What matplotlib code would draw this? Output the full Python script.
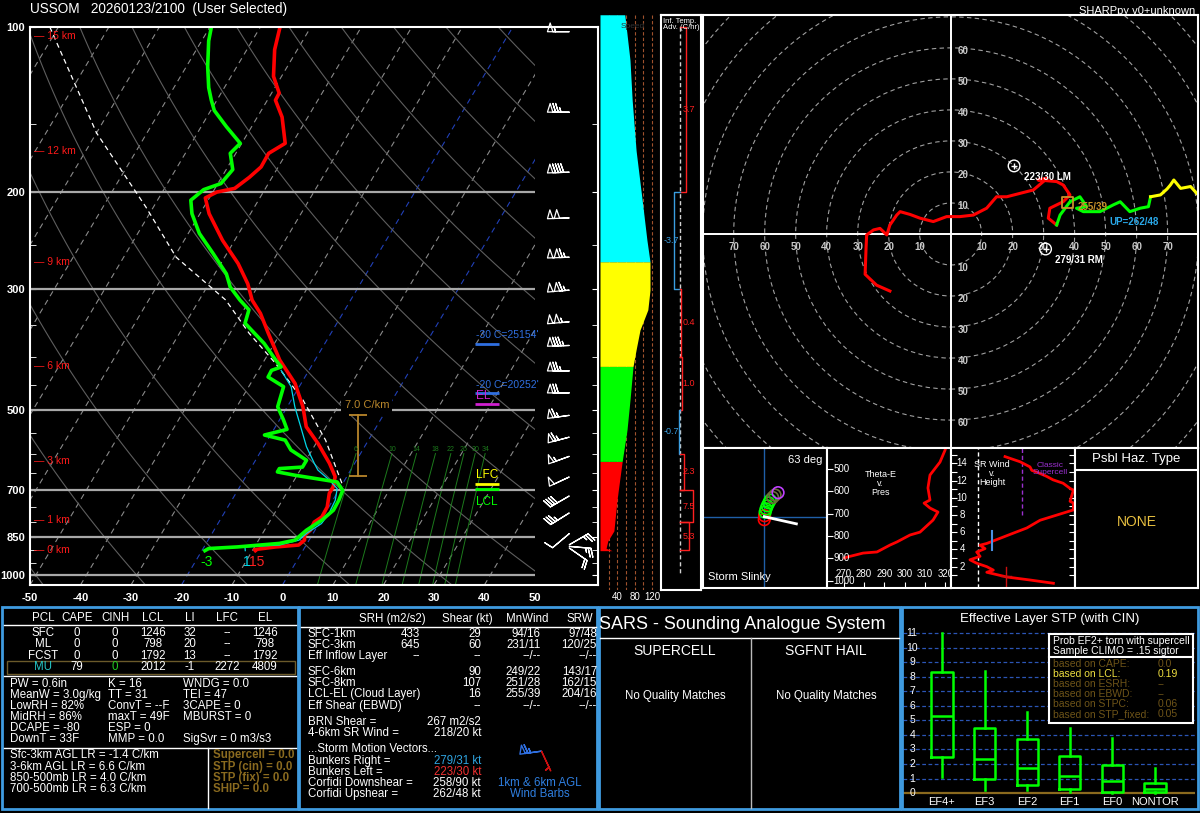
import numpy as np
import matplotlib
matplotlib.use("Agg")
import matplotlib.pyplot as plt
from matplotlib.patches import Rectangle, Circle
from matplotlib.ticker import NullFormatter
import matplotlib.transforms as mtransforms

plt.rcParams['font.family'] = ['Liberation Sans', 'DejaVu Sans']
plt.rcParams['axes.unicode_minus'] = False

W, H = 1200, 813
P_BOT, P_TOP = 1042.0, 100.0
SKEW = 28.0

# ---------------- sounding (pressure hPa, deg C) ----------------
t_p = [100, 110, 123, 132, 136, 146, 163, 170, 180, 188, 197, 200, 205, 219, 245, 270, 294, 315,
       333, 362, 405, 447, 493, 536, 575, 625, 661, 690, 709, 751, 783, 800, 828, 845, 863, 881,
       888, 898, 902]
t_c = [-66.1, -64.5, -61.6, -58.5, -58.4, -55.1, -51.4, -53.5, -53.4, -54.5, -56.1, -59.2, -60.8,
       -58.2, -52.4, -46.6, -42.3, -39.5, -36.3, -32.4, -27.0, -21.2, -16.9, -13.9, -9.6, -5.0,
       -2.3, -1.5, -1.5, -0.3, -0.2, -1.1, -0.9, -1.5, -0.9, -1.5, -5.8, -9.7, -9.4]

td_p = [100, 106, 118, 129, 136, 142, 152, 163, 170, 182, 193, 198, 207, 219, 238, 259, 282, 298,
        315, 328, 347, 378, 405, 417, 423, 435, 453, 493, 521, 542, 555, 567, 591, 617, 635, 639,
        648, 657, 676, 700, 730, 761, 793, 828, 863, 875, 888, 894, 902]
td_c = [-79.7, -78.6, -75.8, -73.1, -71.1, -69.3, -65.0, -60.3, -61.1, -58.7, -59.4, -62.1, -63.4,
        -61.6, -57.8, -52.7, -47.7, -45.4, -41.9, -39.0, -38.2, -32.0, -27.8, -25.9, -27.4, -27.3,
        -23.1, -21.9, -19.2, -17.4, -21.2, -16.5, -14.2, -9.9, -9.9, -14.3, -14.3, -10.5, -1.3,
        0.8, 1.2, 1.3, 0.2, -1.7, -2.8, -5.5, -13.4, -18.9, -19.4]

wb_p = [423, 453, 493, 536, 583, 625, 643, 671, 695, 730, 772, 805, 839, 863, 881, 888, 902]
wb_c = [-25.5, -21.6, -18.5, -15.0, -11.5, -8.0, -6.5, -3.0, -0.5, 0.5, 0.8, 0.5, -1.3, -2.0,
        -5.3, -11.9, -11.4]

pcl_p = [100, 156, 213, 263, 315, 362, 411, 479, 567, 690]
pcl_c = [-111.7, -90.0, -71.5, -59.6, -44.7, -36.2, -27.4, -17.7, -8.5, 0.5]

sfc_lbl = ['-3', '1', '15']          # deg F, dewpoint / wetbulb / temperature

hgt_km = [0, 1, 3, 6, 9, 12, 15]
hgt_p = [901, 794, 619, 416, 268, 168, 104]

mix_w = [6, 10, 14, 18, 22, 26, 30, 34]

barb_p = [102, 143, 184, 223, 263, 302, 345, 381, 424, 465, 511, 560, 607, 662, 717, 770, 840,
          880, 886, 892]
barb_spd = [57, 75, 92, 102, 113, 115, 105, 84, 76, 71, 67, 63, 55, 50, 42, 36, 10, 25, 25, 20]
barb_dir = [270, 270, 268, 268, 268, 265, 265, 268, 270, 270, 262, 255, 250, 245, 240, 238, 230,
            60, 95, 125]

lvl_name = ["-30 C=25154'", "-20 C=20252'", 'EL', 'LFC', 'LCL']
lvl_p = [378, 465, 487, 681, 697]

lr_label = '7.0 C/km'
lr_bot, lr_top = 658, 510

# wind speed profile (kt) coloured by 0-3, 3-6, 6-9, 9+ km
spd_p = [95, 115, 136, 168, 207, 245, 268, 302, 328, 357, 388, 416, 479, 544, 620, 730, 830,
         866, 893, 902]
spd_kt = [57, 69, 74, 83, 97, 108, 115, 115, 110, 92, 83, 76, 69, 62, 51, 39, 32, 18, 14, 28]
band_p = [902, 620, 416, 268, 95]

# inferred temperature advection (C/hr)
adv_top = [100, 200, 300, 400, 500, 600, 700, 800]
adv_bot = [200, 300, 400, 500, 600, 700, 800, 900]
adv_val = [3.7, -3.7, 0.4, 1.0, -0.7, 2.3, 7.5, 5.3]

# hodograph (kt)
h03_u = [-19.6, -23.9, -27.6, -27.3, -27.1, -24.9, -22.8, -20.6, -19.6, -17.4, -16.3, -13.1,
         -9.9, -5.6, -1.3, 3.0, 7.3, 11.6, 14.8, 18.1, 22.4, 26.7, 29.9, 31.0, 28.2, 34.2, 36.3,
         38.5, 36.3, 32.0, 31.5, 34.2]
h03_v = [-18.4, -16.5, -13.0, -4.6, -0.3, 1.3, 1.8, -0.3, 2.9, 6.1, 7.2, 6.3, 5.1, 4.0, 5.6,
         5.6, 6.1, 8.3, 12.0, 12.0, 13.1, 14.2, 16.9, 18.0, 17.4, 16.9, 15.8, 12.6, 10.4, 8.3,
         5.1, 2.9]
h36_u = [34.2, 35.3, 38.5, 41.7, 43.9, 40.6, 42.8, 48.2, 52.5, 54.7, 57.8, 61.1, 63.8, 64.5]
h36_v = [2.9, 6.1, 10.4, 12.0, 8.8, 8.3, 7.2, 7.2, 9.4, 10.4, 7.2, 8.3, 8.8, 12.0]
h69_u = [64.5, 67.7, 69.8, 70.9, 72.0, 74.2, 77.4, 79.4]
h69_v = [12.0, 12.6, 14.5, 15.8, 17.4, 14.7, 15.3, 13.1]

rm_dir, rm_spd = 279, 31
lm_dir, lm_spd = 223, 30
mw_dir, mw_spd = 255, 39
up_dir, up_spd = 262, 48

# storm slinky
slk_x = [0.0, 0.1, 0.3, 0.6, 1.0, 1.5, 2.0, 2.8, 3.6, 4.6]
slk_y = [-1.0, 0.3, 1.5, 2.6, 3.6, 4.6, 5.5, 6.4, 7.2, 8.0]
slk_col = ['red', 'red', '#00ff00', '#00ff00', '#00ff00', '#00ff00', '#00ff00', '#6b6b3a',
           '#6b6b3a', '#c040ff']
slk_vec = (10.7, -2.4)
slk_deg = 63

# theta-e v pres
te_p = [415, 469, 527, 585, 639, 653, 675, 693, 729, 783, 796, 827, 841, 872, 877, 895, 899]
te_k = [319.8, 317.3, 312.4, 311.4, 312.4, 309.5, 312.4, 316.3, 313.9, 307.5, 302.6, 296.2,
        292.8, 286.4, 279.6, 271.7, 270.5]

# storm relative wind v height
srw_h = [14.8, 14.6, 14.2, 13.6, 13.2, 13.0, 12.5, 12.1, 11.7, 11.1, 10.9, 9.6, 9.4, 8.6, 8.0,
         7.4, 6.5, 5.9, 5.3, 4.7, 4.5, 4.1, 3.7, 3.2, 2.8, 2.4, 2.0, 1.6, 1.35, 0.8, 0.45, 0.07]
srw_kt = [30.5, 33.3, 39.0, 44.6, 45.6, 48.4, 54.0, 57.6, 63.3, 67.2, 69.1, 67.2, 69.1, 69.1,
          59.7, 50.3, 42.8, 35.2, 27.7, 20.2, 16.4, 19.2, 14.5, 16.4, 10.7, 14.5, 20.2, 23.9,
          20.2, 31.5, 44.6, 57.8]

# STP box stats
stp_cat = ['EF4+', 'EF3', 'EF2', 'EF1', 'EF0', 'NONTOR']
stp_lo = [1.1, 0.2, 0.2, 0.1, 0.0, 0.0]
stp_q1 = [2.5, 1.0, 0.55, 0.3, 0.05, 0.05]
stp_med = [5.3, 2.35, 1.7, 1.2, 0.8, 0.25]
stp_q3 = [8.3, 4.45, 3.7, 2.55, 1.95, 0.7]
stp_hi = [11.0, 8.4, 5.6, 4.5, 3.75, 1.75]
stp_val = 0.0

# tables
pcl_hdr = ['PCL', 'CAPE', 'CINH', 'LCL', 'LI', 'LFC', 'EL']
pcl_rows = [['SFC', '0', '0', '1246', '32', '--', '1246'],
            ['ML', '0', '0', '798', '20', '--', '798'],
            ['FCST', '0', '0', '1792', '13', '--', '1792'],
            ['MU', '79', '0', '2012', '-1', '2272', '4809']]
idx_cols = [['PW = 0.6in', 'MeanW = 3.0g/kg', 'LowRH = 82%', 'MidRH = 86%', 'DCAPE = -80',
             'DownT = 33F'],
            ['K = 16', 'TT = 31', 'ConvT = --F', 'maxT = 49F', 'ESP = 0', 'MMP = 0.0'],
            ['WNDG = 0.0', 'TEI = 47', '3CAPE = 0', 'MBURST = 0', '', 'SigSvr = 0 m3/s3']]
lapse = ['Sfc-3km AGL LR = -1.4 C/km', '3-6km AGL LR = 6.6 C/km', '850-500mb LR = 4.0 C/km',
         '700-500mb LR = 6.3 C/km']
svr_idx = ['Supercell = 0.0', 'STP (cin) = 0.0', 'STP (fix) = 0.0', 'SHIP = 0.0']

kin_hdr = ['SRH (m2/s2)', 'Shear (kt)', 'MnWind', 'SRW']
kin_rows = [['SFC-1km', '433', '29', '94/16', '97/48'],
            ['SFC-3km', '645', '60', '231/11', '120/25'],
            ['Eff Inflow Layer', '--', '--', '--/--', '--/--'],
            ['SFC-6km', '', '90', '249/22', '143/17'],
            ['SFC-8km', '', '107', '251/28', '162/15'],
            ['LCL-EL (Cloud Layer)', '', '16', '255/39', '204/16'],
            ['Eff Shear (EBWD)', '', '--', '--/--', '--/--']]
kin_misc = [['BRN Shear =', '267 m2/s2'], ['4-6km SR Wind =', '218/20 kt']]
storm_vec = [['Bunkers Right =', '279/31 kt'], ['Bunkers Left =', '223/30 kt'],
             ['Corfidi Downshear =', '258/90 kt'], ['Corfidi Upshear =', '262/48 kt']]
icon_dir = [262, 155]
icon_spd = [65, 5]

prob_rows = [['based on CAPE:', '0.0'], ['based on LCL:', '0.19'], ['based on ESRH:', '--'],
             ['based on EBWD:', '--'], ['based on STPC:', '0.06'],
             ['based on STP_fixed:', '0.05']]


def skx(t, p):
    return np.asarray(t, float) + SKEW * np.log(P_BOT / np.asarray(p, float))


def uv(d, s):
    d = np.radians(np.asarray(d, float))
    s = np.asarray(s, float)
    return -s * np.sin(d), -s * np.cos(d)


fig = plt.figure(figsize=(W / 100, H / 100), dpi=100, facecolor='black')


def pax(x0, y0, x1, y1):
    a = fig.add_axes([x0 / W, 1 - y1 / H, (x1 - x0) / W, (y1 - y0) / H])
    a.set_facecolor('black')
    return a


def frame(a, col='white', lw=1.5):
    for s in a.spines.values():
        s.set_color(col)
        s.set_linewidth(lw)


# ================= skew-T =================
ax = pax(30, 27, 598, 585)
ax.set_yscale('log')
ax.set_ylim(P_BOT, P_TOP)
ax.set_xlim(-50, 62.5)
clip = Rectangle((-50, P_TOP), 100, P_BOT - P_TOP, transform=ax.transData)

pp = np.array([P_BOT, P_TOP])
for t0 in range(-170, 60, 10):
    col = '#2140b8' if t0 in (-20, 0) else '#8a8a8a'
    ln, = ax.plot(skx(t0, pp), pp, color=col, lw=0.8, ls=(0, (5, 4)))
    ln.set_clip_path(clip)

pa = np.geomspace(P_BOT, P_TOP, 60)
for th in range(-50, 250, 20):
    t = (th + 273.15) * (pa / 1000.0) ** 0.2857 - 273.15
    ln, = ax.plot(skx(t, pa), pa, color='#5e5e5e', lw=0.8)
    ln.set_clip_path(clip)

pm = np.geomspace(P_BOT, 600, 20)
for w in mix_w:
    e = w * pm / (622.0 + w)
    le = np.log(e / 6.112)
    td = 243.5 * le / (17.67 - le)
    ax.plot(skx(td, pm), pm, color='#1c7a1c', lw=0.7)
    ax.text(skx(td[-1], 600), 598, str(w), color='#1c7a1c', fontsize=5, ha='center',
            va='bottom')

ax.hlines([200, 300, 500, 700, 850, 1000], -50, 50, colors='#a8a8a8', lw=1.6)

ax.plot(skx(pcl_c, pcl_p), pcl_p, color='white', lw=0.9, ls=(0, (4, 3)))
ax.plot(skx(t_c, t_p), t_p, color='#ff0000', lw=2.6)
ax.plot(skx(wb_c, wb_p), wb_p, color='#00d8e8', lw=0.9)
ax.plot(skx(td_c, td_p), td_p, color='#00ff00', lw=2.6)

for lab, tt, pp0, col in zip(sfc_lbl, [td_c[-1], wb_c[-1], t_c[-1]],
                             [td_p[-1], wb_p[-1], t_p[-1]], ['#00ff00', '#00d8e8', '#ff2020']):
    ax.annotate(lab, (skx(tt, pp0), pp0), xytext=(1, -8), textcoords='offset points',
                color=col, fontsize=10, ha='center', va='center')

for km, p in zip(hgt_km, hgt_p):
    ax.text(-49.2, p, '\u2014 %d km' % km, color='#ff1a1a', fontsize=7.5, va='center')

# levels (freezing heights, EL, LFC, LCL)
lvl_col = ['#2f6fe0', '#2f6fe0', '#d020d0', '#ffff00', '#00ff00']
for i, (nm, p, col) in enumerate(zip(lvl_name, lvl_p, lvl_col)):
    ax.hlines(p, 38.2, 42.8, colors=col, lw=2)
    off = -9 if nm == 'LCL' else 6
    ax.annotate(nm, (38.4, p), xytext=(0, off), textcoords='offset points', color=col,
                fontsize=7.5 if i < 2 else 8.5, ha='left', va='center')

ax.plot([15, 15], [lr_bot, lr_top], color='#b8862b', lw=1.3)
ax.hlines([lr_bot, lr_top], 13.2, 16.8, colors='#b8862b', lw=1.3)
ax.text(16.7, 490, lr_label, color='#b8862b', fontsize=8, ha='center', va='center',
        bbox=dict(facecolor='black', edgecolor='none', pad=2.5))

bu, bv = uv(barb_dir, barb_spd)
ax.barbs(np.full(len(barb_p), 56.8), barb_p, bu, bv, barbcolor='white', flagcolor='none',
         length=5.6, linewidth=0.9, sizes=dict(emptybarb=0.0), clip_on=False)

plev = [100, 200, 300, 500, 700, 850, 1000]
ax.set_yticks(plev)
ax.set_yticklabels([str(p) for p in plev])
ax.set_yticks([150, 250, 350, 400, 450, 550, 600, 650, 750, 800, 900, 950], minor=True)
ax.yaxis.set_minor_formatter(NullFormatter())
ax.tick_params(axis='y', which='both', direction='in', colors='white', right=True, length=4,
               labelsize=8)
ax.set_xticks(range(-50, 51, 10))
ax.tick_params(axis='x', length=0, colors='white', labelsize=8, pad=6)
for lab in ax.get_xticklabels() + ax.get_yticklabels():
    lab.set_fontweight('bold')
frame(ax)

# ================= speed panel =================
sp = pax(599, 15, 660, 590)
sp.set_yscale('log')
sp.set_ylim(1064, 95.1)
sp.set_xlim(-2.3, 138)
sp.axis('off')
sp.vlines(range(20, 140, 20), 95.1, 1064, colors='#a0522d', lw=0.8, linestyles=(0, (3, 2)))
spa, ska = np.array(spd_p), np.array(spd_kt)
for lo, hi, col in zip(band_p[:-1], band_p[1:], ['#ff0000', '#00ff00', '#ffff00', '#00ffff']):
    m = (spa <= lo) & (spa >= hi)
    sp.fill_betweenx(spa[m], 0, ska[m], color=col, lw=0, zorder=3)
sp.text(75, 100, 'Speed', color='#303030', fontsize=6, ha='center', va='center', zorder=4)
bt = mtransforms.blended_transform_factory(sp.transData, sp.transAxes)
for v in (40, 80, 120):
    sp.text(v, -0.013, str(v), transform=bt, color='white', fontsize=7, ha='center',
            va='center')

# ================= inferred temp advection =================
ta = pax(661, 15, 701, 590)
ta.set_yscale('log')
ta.set_ylim(1064, 95.1)
ta.set_xlim(-11.2, 12.4)
ta.set_xticks([])
ta.set_yticks([], minor=True)
ta.set_yticks([])
frame(ta)
ta.plot([0, 0], [100, 1000], color='#d0d0d0', lw=1, ls=(0, (3, 2)))
for top, bot, v in zip(adv_top, adv_bot, adv_val):
    col = '#ff2020' if v > 0 else '#3a9ee0'
    ta.plot([0, v, v, 0], [bot, bot, top, top], color=col, lw=1)
    pm_ = np.sqrt(top * bot)
    if v > 0:
        ta.text(1.6, pm_, '%.1f' % v, color=col, fontsize=6.5, ha='left', va='center')
    else:
        ta.text(-0.8, pm_, '%.1f' % v, color=col, fontsize=6.5, ha='right', va='center')
ta.text(0.06, 0.995, 'Inf. Temp.\nAdv. (C/hr)', transform=ta.transAxes, color='white',
        fontsize=5.5, ha='left', va='top', linespacing=0.9)

# ================= hodograph =================
hx = pax(703, 15, 1198, 448)
hx.set_xlim(-79.9, 79.8)
hx.set_ylim(-69.0, 70.6)
hx.set_xticks([])
hx.set_yticks([])
frame(hx)
for r in range(10, 120, 10):
    hx.add_patch(Circle((0, 0), r, fill=False, ec='#a0a0a0', lw=0.8, ls=(0, (4, 3))))
hx.axhline(0, color='white', lw=1.4)
hx.axvline(0, color='white', lw=1.4)
for r in range(10, 80, 10):
    for sg in (-1, 1):
        hx.text(sg * r, -4.2, str(r), color='#c8c8c8', fontsize=7, ha='center', va='center',
                fontweight='bold')
for r in range(10, 70, 10):
    for sg in (-1, 1):
        hx.text(4.0, sg * r - 1.0, str(r), color='#c8c8c8', fontsize=7, ha='center',
                va='center', fontweight='bold')
hx.plot(h03_u, h03_v, color='#ff0000', lw=2.2)
hx.plot(h36_u, h36_v, color='#00ff00', lw=2.2)
hx.plot(h69_u, h69_v, color='#ffff00', lw=2.2)
for d, s, nm in [(rm_dir, rm_spd, 'RM'), (lm_dir, lm_spd, 'LM')]:
    u, v = uv(d, s)
    hx.scatter([u], [v], s=70, facecolors='none', edgecolors='white', lw=1, zorder=5)
    hx.scatter([u], [v], s=25, marker='+', color='white', lw=1, zorder=5)
    hx.annotate('%d/%d %s' % (d, s, nm), (u, v), xytext=(7, -8), textcoords='offset points',
                color='white', fontsize=7, fontweight='bold', ha='left', va='center')
u, v = uv(mw_dir, mw_spd)
hx.scatter([u], [v], s=60, marker='s', facecolors='none', edgecolors='#c8922a', lw=1.3,
           zorder=5)
hx.annotate('%d/%d' % (mw_dir, mw_spd), (u, v), xytext=(7, -3), textcoords='offset points',
            color='#c8922a', fontsize=7, fontweight='bold', ha='left', va='center')
u, v = uv(up_dir, up_spd)
hx.annotate('UP=%d/%d' % (up_dir, up_spd), (u, v), xytext=(8, -6), textcoords='offset points',
            color='#2aa8e8', fontsize=7, fontweight='bold', ha='left', va='center')

# ================= storm slinky =================
sl = pax(703, 448, 827, 588)
sl.set_xlim(-20.4, 20.9)
sl.set_ylim(-23.8, 22.9)
sl.set_xticks([])
sl.set_yticks([])
frame(sl)
sl.axhline(0, color='#1f5fa8', lw=1)
sl.axvline(0, color='#1f5fa8', lw=1)
sl.scatter(slk_x, slk_y, s=70, facecolors='none', edgecolors=slk_col, lw=1.2, zorder=3)
sl.plot([0, slk_vec[0]], [0, slk_vec[1]], color='white', lw=2, zorder=4)
sl.text(0.96, 0.95, '%d deg' % slk_deg, transform=sl.transAxes, color='white', fontsize=8,
        ha='right', va='top')
sl.text(0.04, 0.04, 'Storm Slinky', transform=sl.transAxes, color='white', fontsize=8,
        ha='left', va='bottom')

# ================= theta-e =================
te = pax(827, 448, 951, 588)
te.set_xlim(261.9, 322.7)
te.set_ylim(1033.6, 405.8)
te.set_yticks([500, 600, 700, 800, 900, 1000])
te.set_xticks(range(270, 321, 10))
te.tick_params(direction='in', colors='white', length=4, labelleft=False, labelbottom=False,
               right=False, top=False)
frame(te)
te.plot(te_k, te_p, color='#ff0000', lw=2)
tb = mtransforms.blended_transform_factory(te.transAxes, te.transData)
for p in [500, 600, 700, 800, 900, 1000]:
    te.text(0.05, p, str(p), transform=tb, color='white', fontsize=7, ha='left', va='center')
tb2 = mtransforms.blended_transform_factory(te.transData, te.transAxes)
for k in range(270, 321, 10):
    te.text(k, 0.1, str(k), transform=tb2, color='white', fontsize=7, ha='center',
            va='center')
te.text(0.43, 0.75, 'Theta-E\nv.\nPres', transform=te.transAxes, color='white', fontsize=6.5,
        ha='center', va='center', linespacing=1.0)

# ================= SR wind v height =================
sr = pax(951, 448, 1075, 588)
sr.set_xlim(0, 70)
sr.set_ylim(-0.48, 15.8)
sr.set_xticks([])
sr.set_yticks(range(1, 16))
sr.tick_params(direction='in', colors='white', length=4, labelleft=False, right=True)
frame(sr)
sr.axvline(15, color='white', lw=1, ls=(0, (3, 2)))
sr.vlines([40, 70], 8, 15.8, colors='#9b30d0', lw=1, linestyles=(0, (3, 2)))
sr.plot(srw_kt, srw_h, color='#ff0000', lw=2)
sr.plot([23, 23], [3.9, 6.1], color='#4a90e2', lw=1.5)
sr.plot([31, 31], [-0.3, 2.0], color='#cc1010', lw=1)
sr.plot([28, 34], [0.95, 0.95], color='#cc1010', lw=1)
sb = mtransforms.blended_transform_factory(sr.transAxes, sr.transData)
for h in range(2, 15, 2):
    sr.text(0.09, h, str(h), transform=sb, color='white', fontsize=7, ha='center', va='center')
sr.text(0.33, 0.82, 'SR Wind\nv.\nHeight', transform=sr.transAxes, color='white', fontsize=6.5,
        ha='center', va='center', linespacing=1.0)
sr.text(0.8, 0.85, 'Classic\nSupercell', transform=sr.transAxes, color='#9b30d0', fontsize=6,
        ha='center', va='center', linespacing=1.0)

# ================= hazard type =================
hz = pax(1075, 448, 1198, 588)
hz.set_xticks([])
hz.set_yticks([])
frame(hz)
hz.axhline(0.84, color='white', lw=1.5)
hz.text(0.5, 0.92, 'Psbl Haz. Type', transform=hz.transAxes, color='white', fontsize=9.5,
        ha='center', va='center')
hz.text(0.5, 0.47, 'NONE', transform=hz.transAxes, color='#e8c040', fontsize=10,
        ha='center', va='center')

# ================= STP box plot =================
st = pax(903, 628, 1195, 797)
st.set_xlim(0.085, 6.94)
st.set_ylim(-0.27, 11.34)
st.axis('off')
for yv in range(1, 12):
    st.axhline(yv, color='#2b55b5', lw=0.9, ls=(0, (3, 2)))
st.axhline(stp_val, color='#8b6a1e', lw=1.6)
stats = [dict(whislo=a, q1=b, med=c, q3=d, whishi=e, label=n)
         for a, b, c, d, e, n in zip(stp_lo, stp_q1, stp_med, stp_q3, stp_hi, stp_cat)]
gp = dict(color='#00ff00', lw=1.8)
st.bxp(stats, positions=range(1, 7), widths=0.5, showfliers=False, showcaps=False,
       boxprops=gp, whiskerprops=gp, medianprops=gp)
for i, c in enumerate(stp_cat):
    st.text(i + 1, -0.6, c, color='white', fontsize=8, ha='center', va='center', clip_on=False)
for yv in range(0, 12):
    st.text(0.3, yv, str(yv), color='white', fontsize=7.5, ha='center', va='center')

# ================= small icon barbs =================
ic = pax(495, 738, 570, 785)
ic.axis('off')
ic.set_xlim(0, 1)
ic.set_ylim(0, 1)
iu, iv = uv(icon_dir, icon_spd)
ic.barbs([0.62, 0.62], [0.72, 0.72], iu, iv, barbcolor=['#2f6fe0', '#cc1010'],
         flagcolor='none', length=5.6, linewidth=1, sizes=dict(emptybarb=0.0))

# ================= overlay: text and frames =================
ov = fig.add_axes([0, 0, 1, 1])
ov.set_xlim(0, W)
ov.set_ylim(H, 0)
ov.axis('off')
ov.patch.set_alpha(0)

ov.text(30, 9, 'USSOM   20260123/2100  (User Selected)', color='white', fontsize=9.8,
        va='center')
ov.text(1195, 11, 'SHARPpy v0+unknown', color='white', fontsize=8, ha='right', va='center')
ov.plot([661, 701], [15, 15], color='white', lw=1.5)

BLUE = '#3f9be0'
BROWN = '#8a6a1f'
for x0, x1 in [(2, 298), (299, 597), (599, 900), (902, 1198)]:
    ov.add_patch(Rectangle((x0, 607), x1 - x0, 202, fill=False, ec=BLUE, lw=2))

fs = 8.3
# panel 1
cx = [43, 77, 115, 153, 190, 227, 265]
for x, t in zip(cx, pcl_hdr):
    ov.text(x, 618, t, color='white', fontsize=fs, ha='center', va='center')
ov.plot([4, 296], [625, 625], color='white', lw=1)
for y, row in zip([633, 644, 656, 667], pcl_rows):
    for j, (x, t) in enumerate(zip(cx, row)):
        col = 'white'
        if row[0] == 'MU' and j == 0:
            col = '#25c6c6'
        if row[0] == 'MU' and j == 2:
            col = '#22cc22'
        ov.text(x, y, t, color=col, fontsize=fs, ha='center', va='center')
ov.add_patch(Rectangle((7, 661), 288, 12.5, fill=False, ec='#6b5a2a', lw=1))
ov.plot([4, 296], [676, 676], color='white', lw=1)
for x, col in zip([10, 108, 183], idx_cols):
    for y, t in zip([684, 695, 706, 717, 728, 739], col):
        ov.text(x, y, t, color='white', fontsize=fs, ha='left', va='center')
ov.plot([4, 296], [748, 748], color='white', lw=1)
ov.plot([208, 208], [748, 808], color='white', lw=1)
for y, t, s in zip([755, 767, 778, 789], lapse, svr_idx):
    ov.text(10, y, t, color='white', fontsize=fs, ha='left', va='center')
    ov.text(213, y, s, color=BROWN, fontsize=fs, ha='left', va='center', fontweight='bold')

# panel 2
for x, t in zip([392, 467, 527, 580], kin_hdr):
    ov.text(x, 619, t, color='white', fontsize=fs, ha='center', va='center')
ov.plot([301, 596], [627, 627], color='white', lw=1)
for y, row in zip([634, 645, 656, 672, 683, 694, 706], kin_rows):
    ov.text(308, y, row[0], color='white', fontsize=fs, ha='left', va='center')
    for x, t in zip([420, 481, 541, 597], row[1:]):
        ov.text(x, y, t, color='white', fontsize=fs, ha='right', va='center')
for y, (a, b) in zip([722, 733], kin_misc):
    ov.text(308, y, a, color='white', fontsize=fs, ha='left', va='center')
    ov.text(481, y, b, color='white', fontsize=fs, ha='right', va='center')
ov.text(308, 749, '...Storm Motion Vectors...', color='white', fontsize=fs, ha='left',
        va='center')
for y, (a, b), col in zip([761, 772, 783, 794], storm_vec,
                          ['#2fa4e0', '#f03030', 'white', 'white']):
    ov.text(308, y, a, color='white', fontsize=fs, ha='left', va='center')
    ov.text(481, y, b, color=col, fontsize=fs, ha='right', va='center')
ov.text(540, 783, '1km & 6km AGL', color='#2f7fe0', fontsize=fs, ha='center', va='center')
ov.text(540, 794, 'Wind Barbs', color='#2f7fe0', fontsize=fs, ha='center', va='center')

# panel 3
ov.text(742, 624, 'SARS - Sounding Analogue System', color='white', fontsize=13,
        ha='center', va='center')
ov.plot([600, 899], [638, 638], color='white', lw=1)
ov.plot([751, 751], [638, 808], color='#bbbbbb', lw=1)
ov.text(675, 651, 'SUPERCELL', color='white', fontsize=10, ha='center', va='center')
ov.text(826, 651, 'SGFNT HAIL', color='white', fontsize=10, ha='center', va='center')
ov.text(675, 696, 'No Quality Matches', color='white', fontsize=fs, ha='center', va='center')
ov.text(826, 696, 'No Quality Matches', color='white', fontsize=fs, ha='center', va='center')

# panel 4
ov.text(1050, 619, 'Effective Layer STP (with CIN)', color='white', fontsize=9.5,
        ha='center', va='center')
ov.add_patch(Rectangle((1049, 634), 144, 89, facecolor='black', ec='white', lw=1.5, zorder=5))
ov.plot([1049, 1193], [657, 657], color='white', lw=1.5, zorder=6)
ov.text(1053, 640.5, 'Prob EF2+ torn with supercell', color='white', fontsize=7.5,
        ha='left', va='center', zorder=6)
ov.text(1053, 651, 'Sample CLIMO = .15 sigtor', color='white', fontsize=7.5, ha='left',
        va='center', zorder=6)
for y, (a, b) in zip([664, 674, 684, 694, 704, 714], prob_rows):
    col = '#f0e040' if 'LCL' in a else '#6e5418'
    ov.text(1053, y, a, color=col, fontsize=7.5, ha='left', va='center', zorder=6)
    ov.text(1158, y, b, color=col, fontsize=7.5, ha='left', va='center', zorder=6)

fig.savefig('out.png', dpi=100, facecolor='black')
